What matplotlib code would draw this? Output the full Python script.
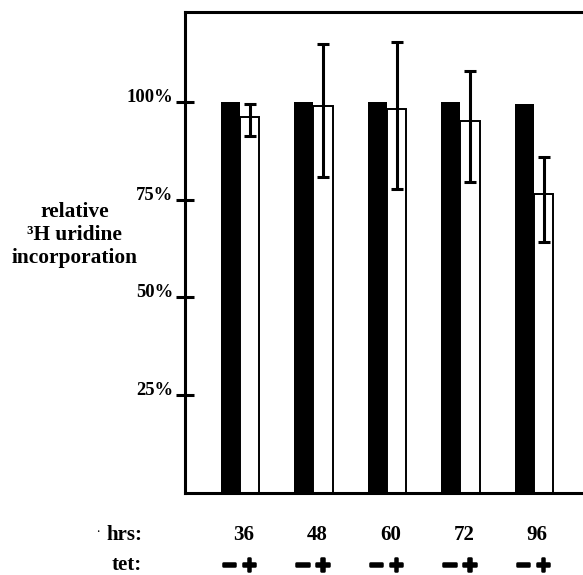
import matplotlib
matplotlib.use("Agg")
import matplotlib.pyplot as plt
import matplotlib.transforms as mtransforms
import matplotlib.patheffects as pe
import numpy as np

plt.rcParams['font.family'] = ['Liberation Serif', 'DejaVu Serif']
plt.rcParams['font.weight'] = 'bold'

hours = ["36", "48", "60", "72", "96"]
minus_tet = [100, 100, 100, 100, 99.5]
plus_tet = [96.2, 98.9, 98.2, 95.1, 76.3]
plus_err_low = [4.9, 18.1, 20.5, 15.6, 12.3]
plus_err_high = [3.3, 15.9, 17.0, 12.8, 9.6]
ytick_vals = [25, 50, 75, 100]
ytick_labels = ["25%", "50%", "75%", "100%"]

W, H = 583, 575
fig = plt.figure(figsize=(W / 100, H / 100), dpi=100)
ax = fig.add_axes([185 / W, 1 - 492.5 / H, 400 / W, 480.5 / H])

x = np.arange(len(hours))
bw = 0.26
ax.bar(x - bw / 2, minus_tet, bw, color='black', edgecolor='black', linewidth=0)
ax.bar(x + bw / 2, plus_tet, bw, color='white', edgecolor='black', linewidth=1.4)
ax.errorbar(x + bw / 2, plus_tet, yerr=[plus_err_low, plus_err_high], fmt='none',
            ecolor='black', elinewidth=2.2, capsize=4.6, capthick=2.2)

ax.set_xlim(-0.748, 4.694)
ax.set_ylim(0, 123.0)
ax.set_xticks([])
ax.set_yticks(ytick_vals)
ax.set_yticklabels(ytick_labels, fontsize=13.4, fontweight='bold')
for lbl in ax.get_yticklabels():
    lbl.set_verticalalignment('baseline')
ax.tick_params(axis='y', direction='inout', length=13, width=2.2, pad=2)
for s in ax.spines.values():
    s.set_linewidth(2.2)

fig.text(74.7 / W, 1 - 235 / H, "relative\n³H uridine\nincorporation", ha='center', va='center',
         fontsize=15.4, fontweight='bold', linespacing=1.2)

# bottom labels
fig.text(98 / W, 1 - 533 / H, "·", ha='center', va='center', fontsize=7, fontweight='bold')
fig.text(142 / W, 1 - 535 / H, "hrs:", ha='right', va='center', fontsize=15, fontweight='bold')
fig.text(142 / W, 1 - 574.5 / H, "tet:", ha='right', va='bottom', fontsize=15, fontweight='bold')
trans = mtransforms.blended_transform_factory(ax.transData, fig.transFigure)
thick = [pe.Stroke(linewidth=1.8, foreground='black'), pe.Normal()]
for i, h in enumerate(hours):
    fig.text(x[i] + 0.045, 1 - 535 / H, h, ha='center', va='center', fontsize=15,
             fontweight='bold', transform=trans)
    fig.text(x[i] - 0.15, 1 - 566 / H, r"$\mathbf{-}$", ha='center', va='center', fontsize=14.5,
             transform=trans, math_fontfamily='dejavusans', path_effects=thick)
    fig.text(x[i] + 0.12, 1 - 566 / H, r"$\mathbf{+}$", ha='center', va='center', fontsize=14.5,
             transform=trans, math_fontfamily='dejavusans', path_effects=thick)

fig.savefig("out.png", dpi=100)
